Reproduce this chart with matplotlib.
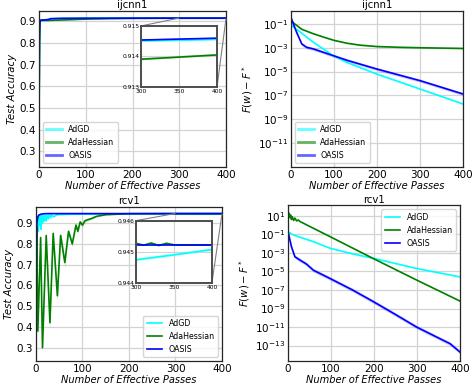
import numpy as np
import matplotlib
matplotlib.use("Agg")
import matplotlib.pyplot as plt
from mpl_toolkits.axes_grid1.inset_locator import mark_inset

# ---------------- ijcnn1: test accuracy ----------------
ij_acc_adgd_x = [0, 1, 2, 3, 10, 20, 25, 50, 100, 200, 300, 350, 400]
ij_acc_adgd_y = [0.40, 0.80, 0.90, 0.905, 0.906, 0.908, 0.912, 0.9135, 0.9142, 0.9144,
                 0.91451, 0.91453, 0.91456]
ij_acc_adgd_s = [0.14, 0.05, 0.005, 0.002, 0.001, 0.001, 0.0005, 0.0002, 0.0001, 0.00005,
                 0.00002, 0.00002, 0.00002]

ij_acc_ada_x = [0, 1, 2, 3, 10, 20, 50, 100, 150, 200, 300, 350, 400]
ij_acc_ada_y = [0.40, 0.80, 0.90, 0.903, 0.904, 0.904, 0.906, 0.910, 0.912, 0.9132,
                0.91391, 0.91398, 0.91405]
ij_acc_ada_s = [0.14, 0.05, 0.005, 0.002, 0.001, 0.001, 0.001, 0.0005, 0.0002, 0.0001,
                0.00004, 0.00004, 0.00004]

ij_acc_oasis_x = [0, 1, 2, 3, 10, 20, 25, 50, 100, 200, 300, 350, 400]
ij_acc_oasis_y = [0.47, 0.85, 0.903, 0.905, 0.906, 0.908, 0.912, 0.9135, 0.9142, 0.9144,
                  0.91454, 0.91457, 0.91460]
ij_acc_oasis_s = [0.12, 0.04, 0.004, 0.002, 0.001, 0.001, 0.0005, 0.0002, 0.0001, 0.00005,
                  0.00002, 0.00002, 0.00002]

# ---------------- ijcnn1: F(w) - F* (log10) ----------------
ij_f_adgd_x = [0, 1, 22, 52, 98, 130, 199, 300, 400]
ij_f_adgd_y = [-0.9, -1.14, -1.70, -2.54, -3.66, -4.23, -5.20, -6.46, -7.72]
ij_f_ada_x = [0, 5, 25, 50, 75, 100, 130, 160, 200, 250, 300, 350, 400]
ij_f_ada_y = [-0.6, -0.9, -1.45, -1.80, -2.10, -2.38, -2.62, -2.78, -2.90, -2.96, -3.00,
              -3.03, -3.06]
ij_f_oasis_x = [0, 1, 13, 25, 36, 52, 98, 130, 199, 300, 400]
ij_f_oasis_y = [-0.4, -0.58, -1.70, -2.68, -2.96, -3.10, -3.66, -4.05, -4.78, -5.76, -6.88]
ij_f_spread = {"AdGD": 0.05, "AdaHessian": 0.04, "OASIS": 0.13}

# ---------------- rcv1: test accuracy ----------------
rc_acc_adgd_x = [0, 2, 3, 5, 6, 8, 9, 11, 12, 14, 15, 18, 19, 22, 23, 27, 28, 32, 33,
                 38, 45, 60, 80, 100, 150, 200, 300, 350, 400]
rc_acc_adgd_y = [0.50, 0.90, 0.93, 0.86, 0.93, 0.89, 0.935, 0.87, 0.935, 0.90, 0.936,
                 0.91, 0.937, 0.91, 0.938, 0.92, 0.938, 0.925, 0.939, 0.93, 0.940, 0.941,
                 0.942, 0.9425, 0.943, 0.9437, 0.94474, 0.94490, 0.94507]
rc_acc_adgd_s = [0.02, 0.01, 0.005, 0.01, 0.005, 0.008, 0.004, 0.01, 0.004, 0.008, 0.004,
                 0.006, 0.003, 0.005, 0.003, 0.004, 0.002, 0.003, 0.002, 0.002, 0.001,
                 0.001, 0.001, 0.0008, 0.0005, 0.0003, 0.00005, 0.00005, 0.00005]

rc_acc_ada_x = [0, 1.5, 4, 10, 14, 22, 30, 37, 46, 53, 62, 70, 78, 86, 90, 95, 100, 105,
                110, 120, 130, 150, 200, 300, 310, 320, 330, 340, 350, 360, 380, 400]
rc_acc_ada_y = [0.50, 0.88, 0.38, 0.83, 0.30, 0.84, 0.42, 0.85, 0.55, 0.84, 0.71, 0.86,
                0.80, 0.89, 0.86, 0.905, 0.89, 0.91, 0.915, 0.922, 0.932, 0.940, 0.9448,
                0.94527, 0.94521, 0.94528, 0.94520, 0.94527, 0.94522, 0.94522, 0.94522,
                0.94522]
rc_acc_ada_s = [0.03, 0.02, 0.03, 0.02, 0.03, 0.02, 0.03, 0.02, 0.03, 0.02, 0.025, 0.015,
                0.015, 0.012, 0.012, 0.01, 0.01, 0.008, 0.006, 0.004, 0.003, 0.002, 0.0005,
                0.00003, 0.00003, 0.00003, 0.00003, 0.00003, 0.00003, 0.00003, 0.00003,
                0.00003]

rc_acc_oasis_x = [0, 1, 2, 4, 6, 10, 15, 20, 30, 50, 100, 400]
rc_acc_oasis_y = [0.50, 0.80, 0.90, 0.93, 0.938, 0.942, 0.944, 0.945, 0.9452, 0.94523,
                  0.94523, 0.94523]
rc_acc_oasis_s = [0.01, 0.01, 0.005, 0.002, 0.001, 0.001, 0.0005, 0.0003, 0.0001,
                  0.00002, 0.00002, 0.00002]

# ---------------- rcv1: F(w) - F* (log10) ----------------
rc_f_adgd_x = [0, 12, 59, 98, 150, 200, 299, 400]
rc_f_adgd_y = [-0.70, -1.06, -1.79, -2.50, -3.10, -3.60, -4.68, -5.59]
rc_f_ada_x = [0, 2, 4, 6, 8, 10, 13, 16, 20, 24, 28, 100, 200, 300, 400]
rc_f_ada_y = [0.6, 1.30, 0.80, 1.10, 0.60, 0.90, 0.50, 0.75, 0.45, 0.55, 0.38, -1.30,
              -3.65, -5.95, -8.20]
rc_f_oasis_x = [0, 8, 16, 28, 43, 59, 98, 150, 200, 250, 299, 340, 377, 400]
rc_f_oasis_y = [-0.70, -2.33, -3.42, -3.78, -4.21, -4.87, -5.77, -7.00, -8.30, -9.65,
                -11.00, -11.95, -12.80, -13.70]
rc_f_spread = {"AdGD": 0.05, "AdaHessian": 0.05, "OASIS": 0.2}

names = ["AdGD", "AdaHessian", "OASIS"]
colors = {"AdGD": "cyan", "AdaHessian": "green", "OASIS": "blue"}

plt.rcParams["font.family"] = "DejaVu Sans"
fig = plt.figure(figsize=(4.74, 3.88), dpi=100)

ax_tl = fig.add_axes([0.0823, 0.5696, 0.3945, 0.402])
ax_tr = fig.add_axes([0.6139, 0.5696, 0.3629, 0.402])
ax_bl = fig.add_axes([0.0759, 0.0696, 0.3924, 0.398])
ax_br = fig.add_axes([0.6076, 0.0696, 0.3629, 0.4008])


def style(ax, title, ylabel):
    ax.set_title(title, fontsize=7.3, pad=2)
    ax.set_xlabel("Number of Effective Passes", fontsize=7.1, style="italic", labelpad=1)
    ax.set_ylabel(ylabel, fontsize=7.3, style="italic", labelpad=2)
    ax.grid(True, color="#d3d3d3", lw=0.9)
    ax.set_axisbelow(True)
    ax.tick_params(length=0, labelsize=7.5, pad=2)
    for sp in ax.spines.values():
        sp.set_color("0.15")
        sp.set_linewidth(0.9)
    ax.set_xlim(0, 400)
    ax.set_xticks([0, 100, 200, 300, 400])


def draw_acc(ax, series):
    for name, (x, y, s) in zip(names, series):
        x = np.array(x)
        y = np.array(y)
        s = np.array(s)
        ax.fill_between(x, y - s, y + s, color=colors[name], alpha=0.2, lw=0)
        ax.plot(x, y, color=colors[name], lw=1.2, label=name)


def draw_log(ax, series, spread):
    for name, (x, ly) in zip(names, series):
        x = np.array(x)
        ly = np.array(ly)
        d = spread[name]
        ax.fill_between(x, 10.0 ** (ly - d), 10.0 ** (ly + d), color=colors[name],
                        alpha=0.2, lw=0)
        ax.plot(x, 10.0 ** ly, color=colors[name], lw=1.2, label=name)
    ax.set_yscale("log")
    ax.minorticks_off()


def add_inset(ax, rect, series, ylim, yticks):
    axins = ax.inset_axes(rect)
    draw_acc(axins, series)
    axins.set_xlim(300, 400)
    axins.set_ylim(*ylim)
    axins.set_xticks([300, 350, 400])
    axins.set_yticks(yticks)
    axins.set_yticklabels(["%.3f" % v for v in yticks])
    axins.tick_params(axis="y", length=0, labelsize=4.3, pad=0.8)
    axins.tick_params(axis="x", length=0, labelsize=4.3, pad=1.6)
    axins.grid(True, color="#d3d3d3", lw=0.8)
    for sp in axins.spines.values():
        sp.set_color("0.3")
        sp.set_linewidth(1.4)
    mark_inset(ax, axins, loc1=2, loc2=4, fc="none", ec="0.5", lw=0.8)
    return axins


def fade_legend(leg):
    for h in leg.get_lines():
        h.set_alpha(0.6)
        h.set_linewidth(2)


# ijcnn1 accuracy
tl_series = [(ij_acc_adgd_x, ij_acc_adgd_y, ij_acc_adgd_s),
             (ij_acc_ada_x, ij_acc_ada_y, ij_acc_ada_s),
             (ij_acc_oasis_x, ij_acc_oasis_y, ij_acc_oasis_s)]
draw_acc(ax_tl, tl_series)
style(ax_tl, "ijcnn1", "Test Accuracy")
ax_tl.set_yticks([0.3, 0.4, 0.5, 0.6, 0.7, 0.8, 0.9])
leg = ax_tl.legend(loc="lower left", fontsize=5.7)
fade_legend(leg)
add_inset(ax_tl, [0.545, 0.513, 0.407, 0.391], tl_series, (0.913, 0.915),
          [0.913, 0.914, 0.915])

# ijcnn1 suboptimality
draw_log(ax_tr, [(ij_f_adgd_x, ij_f_adgd_y), (ij_f_ada_x, ij_f_ada_y),
                 (ij_f_oasis_x, ij_f_oasis_y)], ij_f_spread)
style(ax_tr, "ijcnn1", r"$F(w) - F^*$")
ax_tr.set_ylim(1e-13, 1.2)
ax_tr.set_yticks([10.0 ** k for k in range(-11, 0, 2)])
leg = ax_tr.legend(loc="lower left", fontsize=5.7)
fade_legend(leg)

# rcv1 accuracy
bl_series = [(rc_acc_adgd_x, rc_acc_adgd_y, rc_acc_adgd_s),
             (rc_acc_ada_x, rc_acc_ada_y, rc_acc_ada_s),
             (rc_acc_oasis_x, rc_acc_oasis_y, rc_acc_oasis_s)]
draw_acc(ax_bl, bl_series)
style(ax_bl, "rcv1", "Test Accuracy")
ax_bl.set_yticks([0.3, 0.4, 0.5, 0.6, 0.7, 0.8, 0.9])
ax_bl.legend(loc="lower right", fontsize=5.7)
add_inset(ax_bl, [0.538, 0.506, 0.408, 0.403], bl_series, (0.944, 0.946),
          [0.944, 0.945, 0.946])

# rcv1 suboptimality
draw_log(ax_br, [(rc_f_adgd_x, rc_f_adgd_y), (rc_f_ada_x, rc_f_ada_y),
                 (rc_f_oasis_x, rc_f_oasis_y)], rc_f_spread)
style(ax_br, "rcv1", r"$F(w) - F^*$")
ax_br.set_yticks([10.0 ** k for k in range(-13, 2, 2)])
ax_br.legend(loc="upper right", fontsize=5.7)

fig.savefig("out.png", dpi=100)
